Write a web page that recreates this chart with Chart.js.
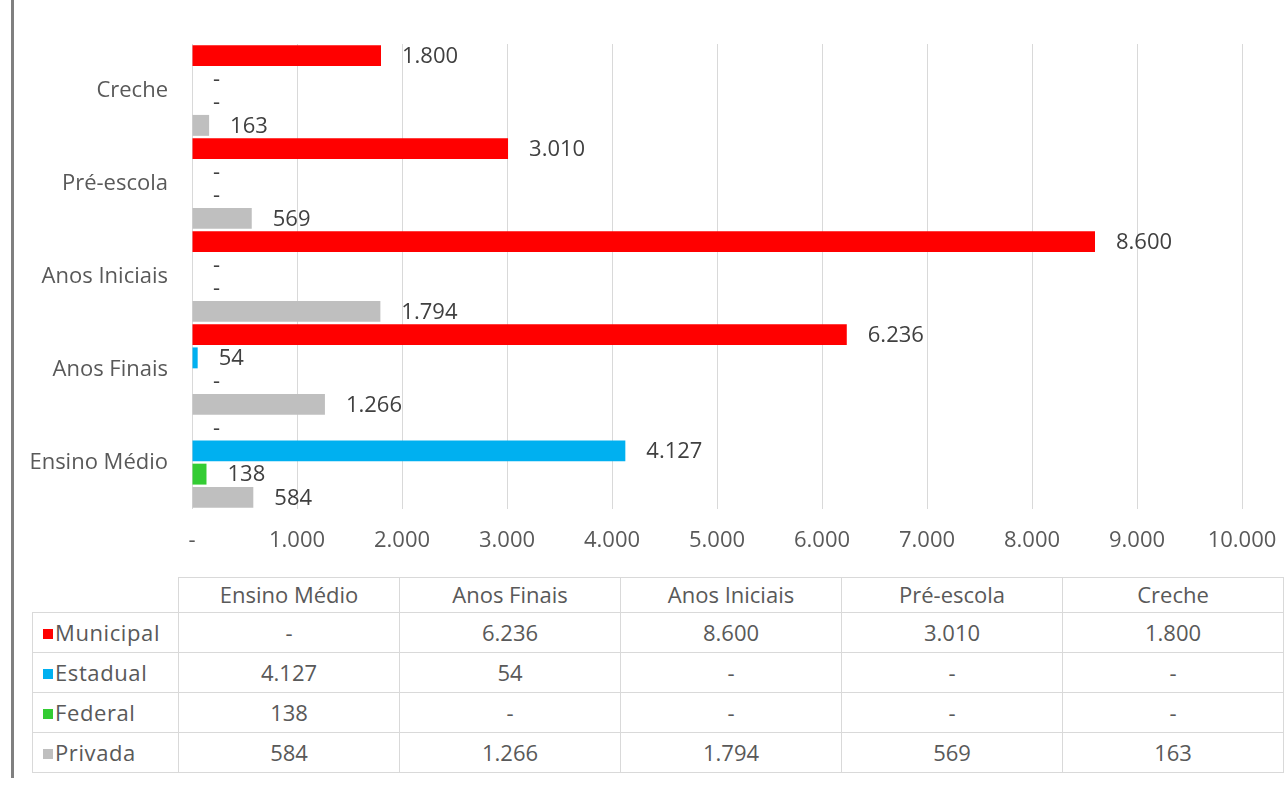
<!DOCTYPE html>
<html>
<head>
<meta charset="utf-8">
<script src="https://cdn.jsdelivr.net/npm/chart.js"></script>
<style>
    body { margin: 0; background: #fff; font-family: "Open Sans", sans-serif; }
    #frame { position: relative; width: 1287px; height: 796px; overflow: hidden; }
    #leftRule { position: absolute; left: 11px; top: 0; width: 3px; height: 778px; background: #808080; }
    #chart { position: absolute; left: 0; top: 0; }
    #dataTable { position: absolute; left: 32px; top: 577px; border-collapse: collapse; table-layout: fixed; color: #595959; font-size: 22px; }
    #dataTable th, #dataTable td { border: 1px solid #d9d9d9; text-align: center; font-weight: normal; padding: 0; line-height: 1; }
    #dataTable tr.head th { height: 31px; padding-bottom: 3px; }
    #dataTable tr.body td { height: 37px; padding-bottom: 2px; }
    #dataTable th.corner { border-top: none; border-left: none; }
    #dataTable td.name { text-align: left; padding-left: 10px; white-space: nowrap; letter-spacing: 0.6px; }
    .key { display: inline-block; width: 10px; height: 10px; margin-right: 2px; vertical-align: 2px; }
</style>
</head>
<body>
<div id="frame">
    <div id="leftRule"></div>
    <canvas id="chart" width="1287" height="560"></canvas>
    <table id="dataTable"></table>
</div>
<script>
// categories in the order of the table (chart draws them bottom-up)
const categories = ['Ensino Médio', 'Anos Finais', 'Anos Iniciais', 'Pré-escola', 'Creche'];

// series values, one per category
const municipal = [0, 6236, 8600, 3010, 1800];
const estadual = [4127, 54, 0, 0, 0];
const federal = [138, 0, 0, 0, 0];
const privada = [584, 1266, 1794, 569, 163];

const seriesNames = ['Municipal', 'Estadual', 'Federal', 'Privada'];
const seriesValues = [municipal, estadual, federal, privada];
const seriesColors = ['#ff0000', '#00b0f0', '#33cc33', '#bfbfbf'];

// x axis
const xMin = 0;
const xMax = 10000;
const xStep = 1000;

function fmt(v) {
    // pt-BR style thousands, zero shown as a dash
    if (v === 0) return '-';
    return String(v).replace(/\B(?=(\d{3})+(?!\d))/g, '.');
}

// draw the value next to every bar
const valueLabels = {
    id: 'valueLabels',
    afterDatasetsDraw(chart) {
        const ctx = chart.ctx;
        ctx.save();
        ctx.font = '22px "Open Sans"';
        ctx.fillStyle = '#404040';
        ctx.textAlign = 'left';
        ctx.textBaseline = 'middle';
        chart.data.datasets.forEach((ds, i) => {
            chart.getDatasetMeta(i).data.forEach((bar, j) => {
                ctx.fillText(fmt(ds.data[j]), bar.x + 21, bar.y + 1);
            });
        });
        ctx.restore();
    }
};

const ctx = document.getElementById('chart').getContext('2d');

const chart = new Chart(ctx, {
    type: 'bar',
    data: {
        labels: categories,
        datasets: seriesNames.map((name, i) => ({
            label: name,
            data: seriesValues[i],
            backgroundColor: seriesColors[i],
            barPercentage: 0.9,
            categoryPercentage: 1.0,
        })),
    },
    options: {
        indexAxis: 'y',
        responsive: false,
        animation: false,
        layout: { padding: { top: 44, right: 45, bottom: 1, left: 0 } },
        plugins: {
            legend: { display: false },
            tooltip: { enabled: false },
        },
        scales: {
            x: {
                min: xMin,
                max: xMax,
                ticks: {
                    stepSize: xStep,
                    callback: v => fmt(v),
                    color: '#595959',
                    font: { family: 'Open Sans', size: 22 },
                    padding: 19,
                    maxRotation: 0,
                    autoSkip: false,
                },
                grid: { color: '#d9d9d9', drawTicks: false },
                border: { display: false },
                afterFit: s => { s.height = 50; s.paddingLeft = 0; s.paddingRight = 0; },
            },
            y: {
                reverse: true,
                ticks: {
                    color: '#595959',
                    font: { family: 'Open Sans', size: 22 },
                    padding: 24,
                },
                grid: { display: false, drawTicks: false },
                border: { display: false },
                afterFit: s => { s.width = 192; s.paddingTop = 0; s.paddingBottom = 0; },
            },
        },
    },
    plugins: [valueLabels],
});

// data table under the chart, built from the same arrays
const table = document.getElementById('dataTable');
let html = '<colgroup><col style="width:146px">';
categories.forEach(() => { html += '<col style="width:221px">'; });
html += '</colgroup><tr class="head"><th class="corner"></th>';
categories.forEach(c => { html += '<th>' + c + '</th>'; });
html += '</tr>';
seriesNames.forEach((name, i) => {
    html += '<tr class="body"><td class="name"><span class="key" style="background:' + seriesColors[i] + '"></span>' + name + '</td>';
    seriesValues[i].forEach(v => { html += '<td>' + fmt(v) + '</td>'; });
    html += '</tr>';
});
table.innerHTML = html;
</script>
</body>
</html>
